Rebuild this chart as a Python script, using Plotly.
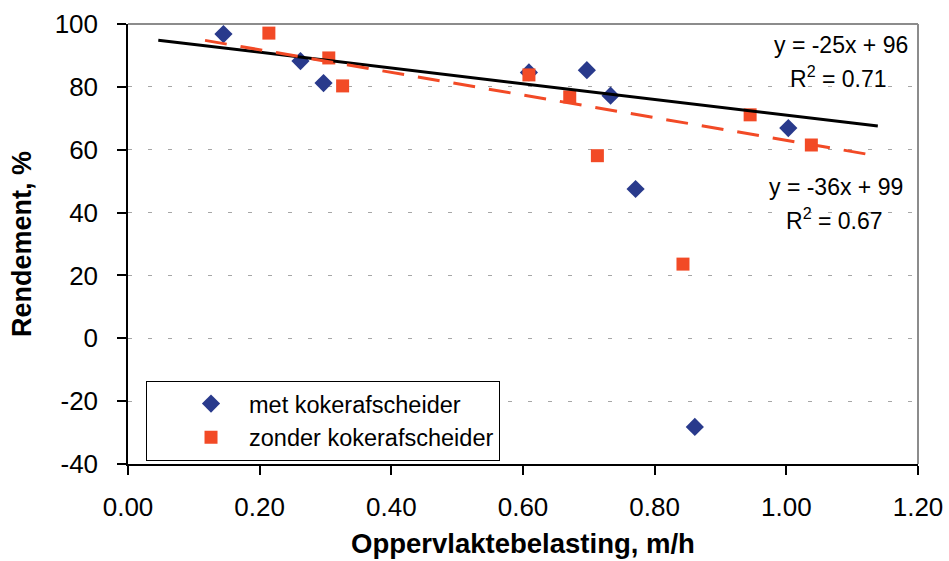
import numpy as np
import plotly.graph_objects as go

# ---- data ----
met_x = [0.145, 0.262, 0.297, 0.609, 0.697, 0.733, 0.771, 0.861, 1.003]
met_y = [96.8, 88.2, 81.2, 84.6, 85.3, 77.2, 47.5, -28.2, 66.9]
zonder_x = [0.214, 0.305, 0.326, 0.609, 0.671, 0.713, 0.843, 0.945, 1.038]
zonder_y = [97.1, 89.2, 80.3, 83.8, 76.8, 58.1, 23.6, 71.1, 61.5]

# trendline coefficients (slope, intercept) and extent
met_fit = (-25.0, 96.0)
met_fit_x = [0.046, 1.139]
zonder_fit = (-36.0, 99.0)
zonder_fit_x = [0.117, 1.138]

x_ticks = [0.0, 0.2, 0.4, 0.6, 0.8, 1.0, 1.2]
x_ticklabels = ["0.00", "0.20", "0.40", "0.60", "0.80", "1.00", "1.20"]
y_ticks = [-40, -20, 0, 20, 40, 60, 80, 100]
y_ticklabels = ["-40", "-20", "0", "20", "40", "60", "80", "100"]

BLUE = "#293A8C"
ORANGE = "#F24A26"
FONT = "Arial, Liberation Sans, sans-serif"

fig = go.Figure()
fig.add_trace(go.Scatter(x=met_x, y=met_y, mode="markers", name="met kokerafscheider",
                         marker=dict(symbol="diamond", size=14, color=BLUE, line=dict(width=0))))
fig.add_trace(go.Scatter(x=zonder_x, y=zonder_y, mode="markers", name="zonder kokerafscheider",
                         marker=dict(symbol="square", size=13, color=ORANGE, line=dict(width=0))))

mx = np.array(met_fit_x)
fig.add_trace(go.Scatter(x=mx, y=met_fit[0] * mx + met_fit[1], mode="lines", showlegend=False,
                         line=dict(color="black", width=3), hoverinfo="skip"))
zx = np.array(zonder_fit_x)
fig.add_trace(go.Scatter(x=zx, y=zonder_fit[0] * zx + zonder_fit[1], mode="lines", showlegend=False,
                         line=dict(color=ORANGE, width=3, dash="22px,14px"), hoverinfo="skip"))

fig.update_xaxes(range=[0, 1.2], tickvals=x_ticks, ticktext=x_ticklabels, showgrid=False,
                 zeroline=False, showline=True, linecolor="black", linewidth=1.5,
                 ticks="outside", ticklen=9, tickwidth=1.5, tickcolor="black",
                 tickfont=dict(family=FONT, size=26, color="black"), ticklabelstandoff=10,
                 automargin=False,
                 title=dict(text="<b>Oppervlaktebelasting, m/h</b>", standoff=13,
                            font=dict(family=FONT, size=27.5, color="black")))
fig.update_yaxes(range=[-40, 100], tickvals=y_ticks, ticktext=y_ticklabels, showgrid=True,
                 gridcolor="#a6a6a6", gridwidth=1, griddash="4px,16px", zeroline=False,
                 showline=True, linecolor="black", linewidth=1.5, ticks="outside", ticklen=9,
                 tickwidth=1.5, tickcolor="black", tickfont=dict(family=FONT, size=26, color="black"),
                 ticklabelstandoff=14, automargin=False,
                 title=dict(text="<b>Rendement, %</b>", standoff=15,
                            font=dict(family=FONT, size=27, color="black")))

# plot frame (top/right)
fig.add_shape(type="line", xref="paper", yref="paper", x0=0, x1=1, y0=1, y1=1,
              line=dict(color="#8c8c8c", width=2))
fig.add_shape(type="line", xref="paper", yref="paper", x0=1, x1=1, y0=0, y1=1,
              line=dict(color="#8c8c8c", width=2))

ann_font = dict(family=FONT, size=23, color="black")
fig.add_annotation(xref="paper", yref="paper", x=0.99, y=0.952, xanchor="right", yanchor="middle",
                   text="y = -25x + 96", showarrow=False, font=ann_font)
fig.add_annotation(xref="paper", yref="paper", x=0.963, y=0.8795, xanchor="right", yanchor="middle",
                   text="R<sup>2</sup> = 0.71", showarrow=False, font=ann_font)
fig.add_annotation(xref="paper", yref="paper", x=0.9835, y=0.6295, xanchor="right", yanchor="middle",
                   text="y = -36x + 99", showarrow=False, font=ann_font)
fig.add_annotation(xref="paper", yref="paper", x=0.958, y=0.557, xanchor="right", yanchor="middle",
                   text="R<sup>2</sup> = 0.67", showarrow=False, font=ann_font)

fig.update_layout(width=949, height=561, margin=dict(l=128, r=31, t=24, b=97),
                  plot_bgcolor="white", paper_bgcolor="white",
                  legend=dict(x=0.0228, y=0.189, xanchor="left", yanchor="top",
                              bordercolor="black", borderwidth=1, bgcolor="white",
                              font=dict(family=FONT, size=23.5, color="black"),
                              indentation=26, itemwidth=66, entrywidth=393),
                  showlegend=True)

fig.write_html("out.html")
